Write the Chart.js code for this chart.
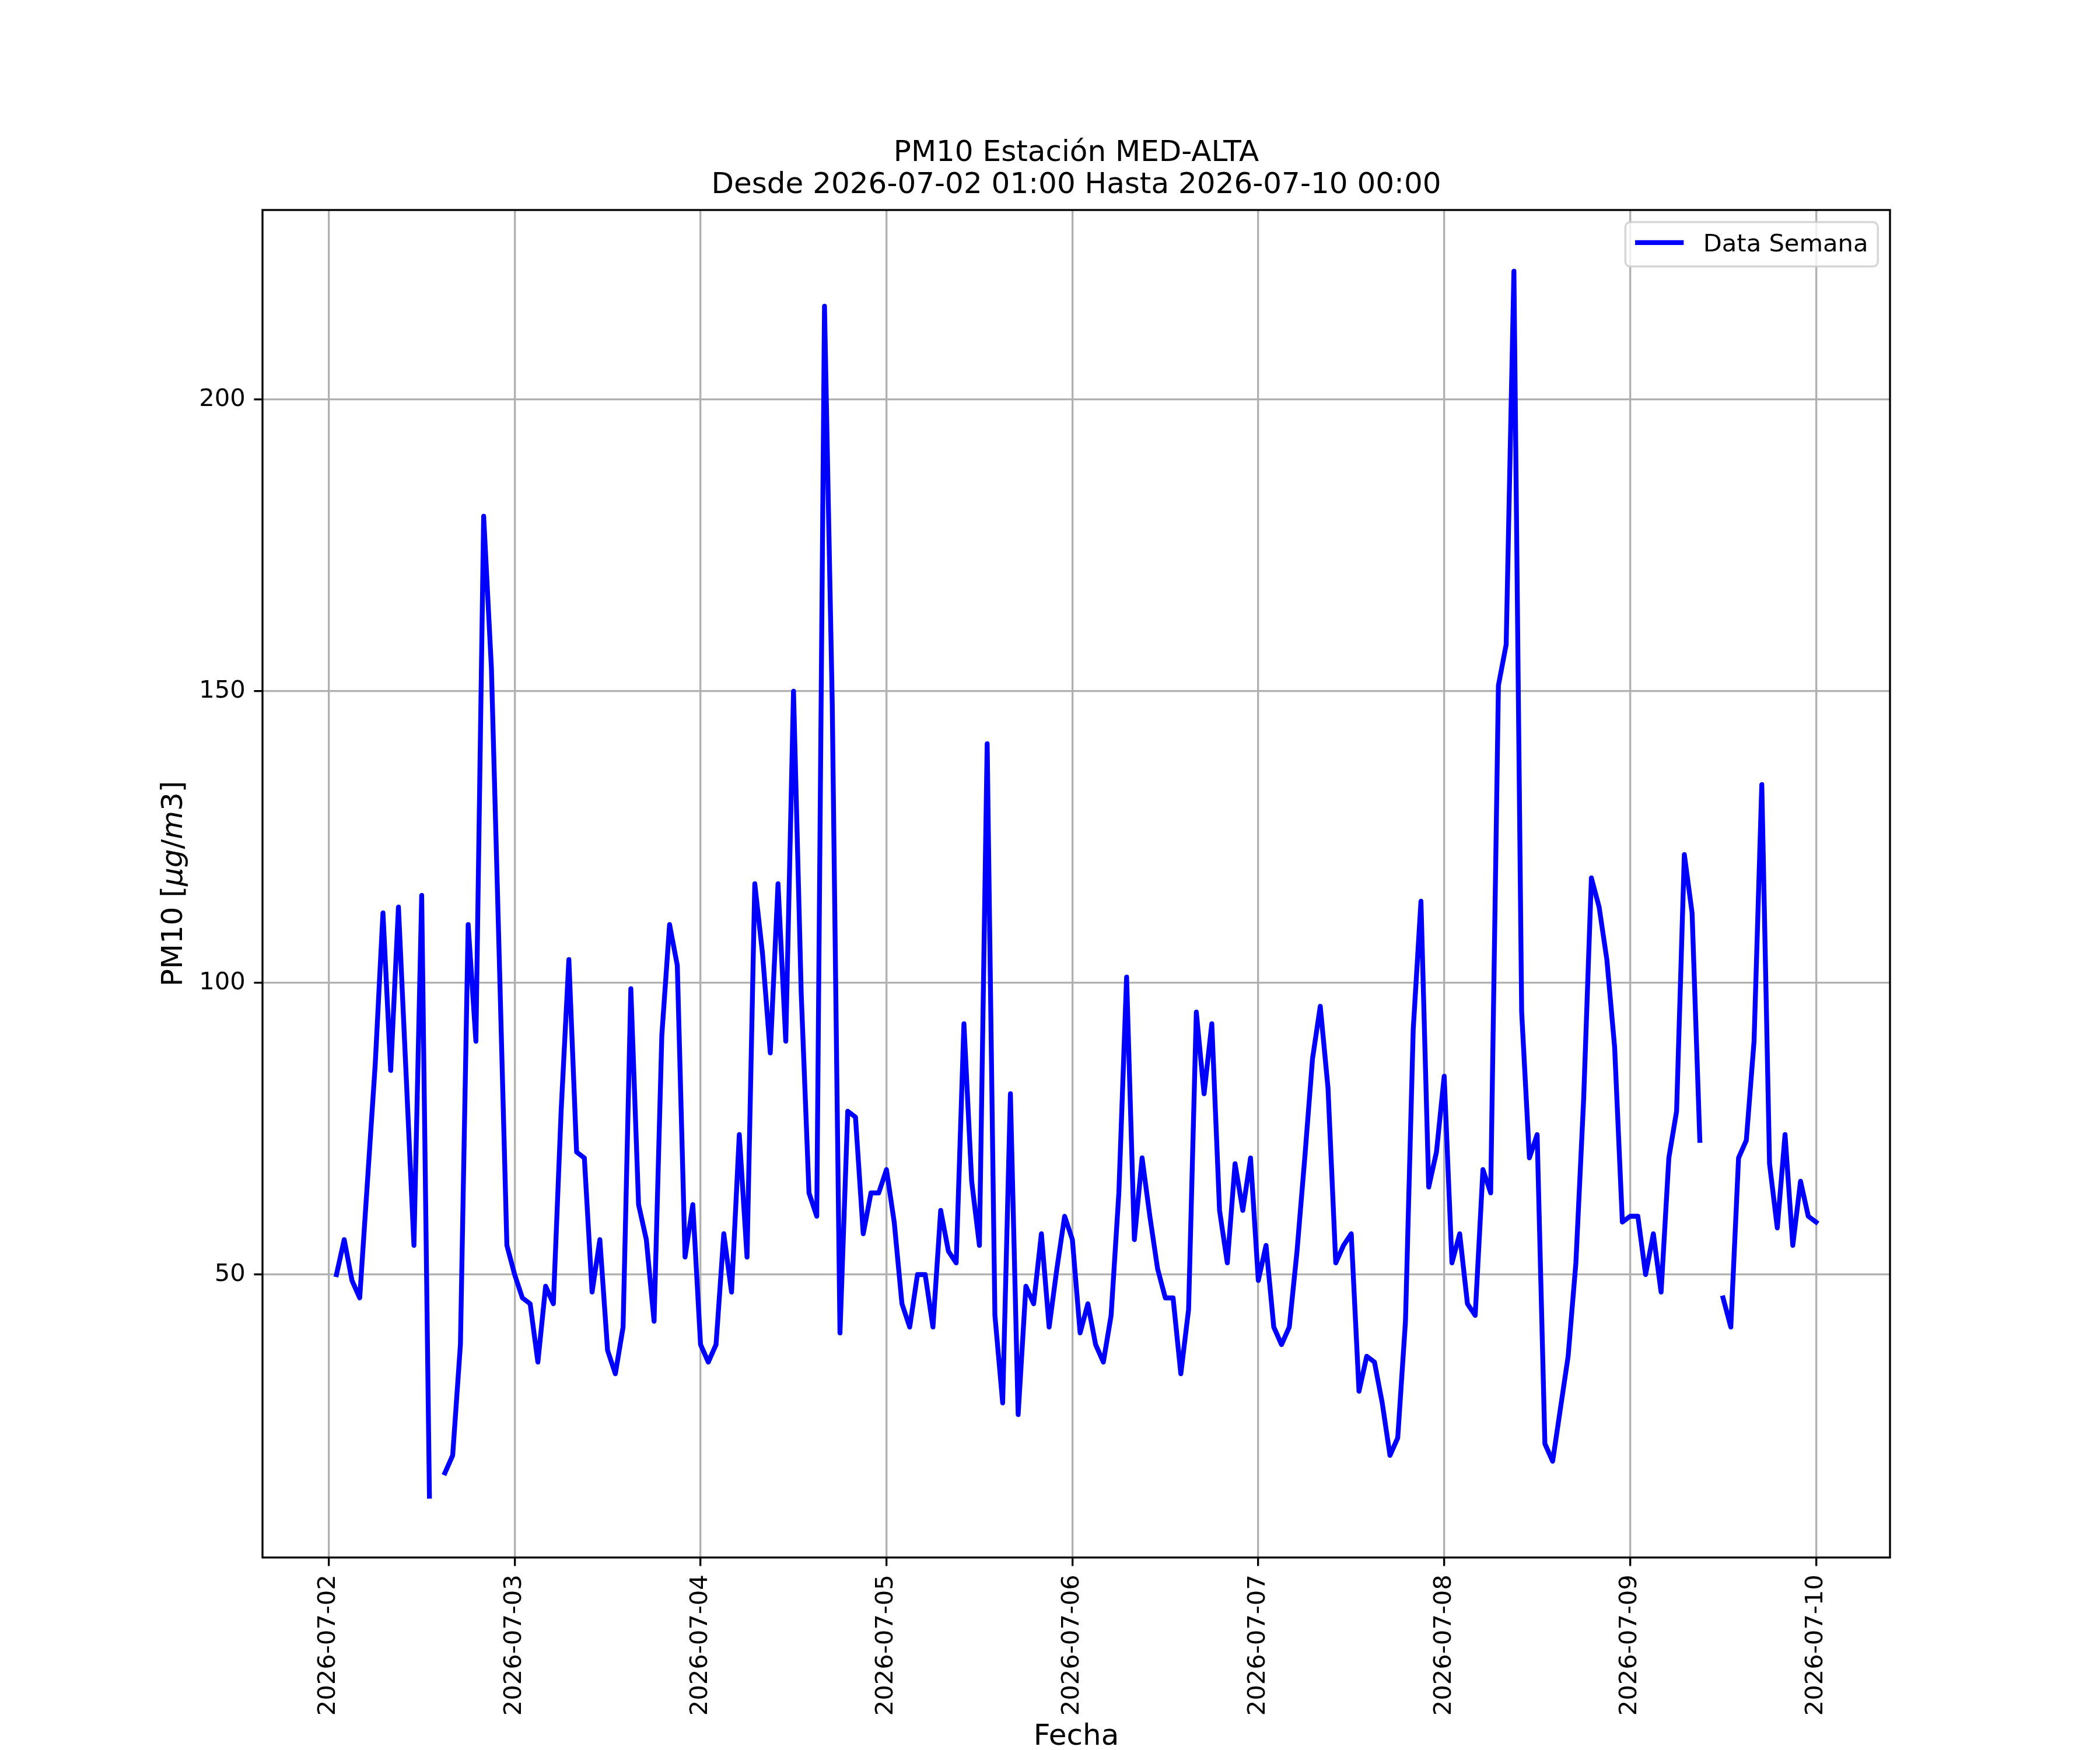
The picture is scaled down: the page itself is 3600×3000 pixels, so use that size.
<!DOCTYPE html>
<html>
<head>
<meta charset="utf-8">
<title>PM10 Estación MED-ALTA</title>
<script src="https://cdn.jsdelivr.net/npm/chart.js@4.4.1/dist/chart.umd.min.js"></script>
<style>
  html, body { margin: 0; padding: 0; background: #ffffff; }
  canvas { display: block; }
</style>
</head>
<body>
<canvas id="myChart" width="3600" height="3000" style="width:3600px;height:3000px"></canvas>
<script>
'use strict';

// hourly PM10 values, the first one is 2026-07-02 01:00, null = no measurement
const pm10 = [
  50, 56, 49, 46, 66, 86, 112, 85, 113, 84, 55, 115, 12, null, 16, 19, 38, 110, 90, 180, 154, 105, 55, 50,
  46, 45, 35, 48, 45, 78, 104, 71, 70, 47, 56, 37, 33, 41, 99, 62, 56, 42, 91, 110, 103, 53, 62, 38,
  35, 38, 57, 47, 74, 53, 117, 105, 88, 117, 90, 150, 98, 64, 60, 216, 148, 40, 78, 77, 57, 64, 64, 68,
  59, 45, 41, 50, 50, 41, 61, 54, 52, 93, 66, 55, 141, 43, 28, 81, 26, 48, 45, 57, 41, 51, 60, 56,
  40, 45, 38, 35, 43, 64, 101, 56, 70, 60, 51, 46, 46, 33, 44, 95, 81, 93, 61, 52, 69, 61, 70, 49,
  55, 41, 38, 41, 54, 70, 87, 96, 82, 52, 55, 57, 30, 36, 35, 28, 19, 22, 42, 92, 114, 65, 71, 84,
  52, 57, 45, 43, 68, 64, 151, 158, 222, 95, 70, 74, 21, 18, 27, 36, 52, 80, 118, 113, 104, 89, 59, 60,
  60, 50, 57, 47, 70, 78, 122, 112, 73, null, null, 46, 41, 70, 73, 90, 134, 69, 58, 74, 55, 66, 60, 59
];
const firstHour = 1; // hours after 2026-07-02 00:00

// x ticks: hours after 2026-07-02 00:00 and their labels
const dayTicks = [0, 24, 48, 72, 96, 120, 144, 168, 192];
const dayLabels = ['2026-07-02', '2026-07-03', '2026-07-04', '2026-07-05', '2026-07-06',
  '2026-07-07', '2026-07-08', '2026-07-09', '2026-07-10'];
const valueTicks = [50, 100, 150, 200];

const titleLines = ['PM10 Estación MED-ALTA', 'Desde 2026-07-02 01:00 Hasta 2026-07-10 00:00'];
const seriesName = 'Data Semana';
const xTitle = 'Fecha';

// figure was saved at 300 dpi, so 1pt = 300/72 px
const pt = 300 / 72;
const family = '\'DejaVu Sans\', sans-serif';
const fontSize = 10 * pt;
const labelSize = 12 * pt;

let points = pm10.map((v, i) => ({ x: firstHour + i, y: v }));

// axis limits with the usual 5% margin round the data
let known = pm10.filter(v => v !== null);
let lo = Math.min(...known);
let hi = Math.max(...known);
let yPad = 0.05 * (hi - lo);
let lastHour = firstHour + pm10.length - 1;
let xPad = 0.05 * (lastHour - firstHour);

Chart.defaults.font.family = family;
Chart.defaults.color = '#000000';

function roundBox(ctx, x, y, w, h, r) {
  ctx.beginPath();
  ctx.moveTo(x + r, y);
  ctx.lineTo(x + w - r, y);
  ctx.arcTo(x + w, y, x + w, y + r, r);
  ctx.lineTo(x + w, y + h - r);
  ctx.arcTo(x + w, y + h, x + w - r, y + h, r);
  ctx.lineTo(x + r, y + h);
  ctx.arcTo(x, y + h, x, y + h - r, r);
  ctx.lineTo(x, y + r);
  ctx.arcTo(x, y, x + r, y, r);
  ctx.closePath();
}

// black frame round the plot area (all four spines)
const frame = {
  id: 'frame',
  afterDatasetsDraw(chart) {
    let a = chart.chartArea;
    let ctx = chart.ctx;
    ctx.save();
    ctx.strokeStyle = '#000000';
    ctx.lineWidth = 0.8 * pt;
    ctx.strokeRect(a.left, a.top, a.right - a.left, a.bottom - a.top);
    ctx.restore();
  }
};

// legend inside the plot, upper right, like matplotlib
const legendBox = {
  id: 'legendBox',
  afterDraw(chart) {
    let a = chart.chartArea;
    let ctx = chart.ctx;
    ctx.save();
    ctx.font = `${fontSize}px ${family}`;
    let textW = ctx.measureText(seriesName).width;
    let pad = 0.4 * fontSize;
    let handle = 2 * fontSize;
    let gap = 0.8 * fontSize;
    let w = pad + handle + gap + textW + pad;
    let h = 76;
    let right = a.right - 0.5 * fontSize;
    let top = a.top + 0.5 * fontSize;
    let left = right - w;

    roundBox(ctx, left, top, w, h, 0.2 * fontSize);
    ctx.fillStyle = 'rgba(255,255,255,0.8)';
    ctx.fill();
    ctx.strokeStyle = 'rgba(204,204,204,0.8)';
    ctx.lineWidth = 0.85 * pt;
    ctx.stroke();

    ctx.beginPath();
    ctx.moveTo(left + pad, top + 35);
    ctx.lineTo(left + pad + handle, top + 35);
    ctx.strokeStyle = '#0000ff';
    ctx.lineWidth = 2 * pt;
    ctx.lineCap = 'butt';
    ctx.stroke();

    ctx.fillStyle = '#000000';
    ctx.textBaseline = 'alphabetic';
    ctx.textAlign = 'left';
    ctx.fillText(seriesName, left + pad + handle + gap, top + 50);
    ctx.restore();
  }
};

// y label with the math part in italics: PM10 [μg/m3]
const yLabel = {
  id: 'yLabel',
  afterDraw(chart) {
    let a = chart.chartArea;
    let ctx = chart.ctx;
    let normal = `${labelSize}px ${family}`;
    let italic = `oblique ${labelSize}px ${family}`;
    let parts = [['PM10 [', normal], ['μg', italic], ['/', normal], ['m', italic], ['3', normal], [']', normal]];
    ctx.save();
    let total = 0;
    parts.forEach(p => { ctx.font = p[1]; total += ctx.measureText(p[0]).width; });
    ctx.translate(312, (a.top + a.bottom) / 2);
    ctx.rotate(-Math.PI / 2);
    ctx.fillStyle = '#000000';
    ctx.textBaseline = 'alphabetic';
    ctx.textAlign = 'left';
    let x = -total / 2;
    parts.forEach(p => {
      ctx.font = p[1];
      ctx.fillText(p[0], x, 0);
      x += ctx.measureText(p[0]).width;
    });
    ctx.restore();
  }
};

const gridStyle = {
  color: '#b0b0b0',
  lineWidth: 0.8 * pt,
  tickLength: 3.5 * pt,
  tickColor: '#000000',
  tickWidth: 0.8 * pt
};

const ctx = document.getElementById('myChart');

// eslint-disable-next-line no-undef
new Chart(ctx, {
  type: 'line',
  data: {
    datasets: [{
      label: seriesName,
      data: points,
      borderColor: '#0000ff',
      backgroundColor: '#0000ff',
      borderWidth: 2 * pt,
      borderJoinStyle: 'round',
      borderCapStyle: 'square',
      pointRadius: 0,
      tension: 0,
      spanGaps: false,
      fill: false
    }]
  },
  options: {
    responsive: false,
    devicePixelRatio: 1,
    animation: false,
    events: [],
    layout: { padding: { left: 0, right: 360, top: 0, bottom: 0 } },
    scales: {
      x: {
        type: 'linear',
        min: firstHour - xPad,
        max: lastHour + xPad,
        afterBuildTicks: (scale) => { scale.ticks = dayTicks.map(v => ({ value: v })); },
        afterFit: (scale) => { scale.height = 330; },
        ticks: {
          autoSkip: false,
          minRotation: 90,
          maxRotation: 90,
          padding: 3.5 * pt,
          color: '#000000',
          font: { size: fontSize },
          callback: (value, i) => dayLabels[i]
        },
        grid: gridStyle,
        border: { display: false },
        title: {
          display: true,
          text: xTitle,
          color: '#000000',
          font: { size: labelSize, lineHeight: 0.8 },
          padding: { top: 0, bottom: 2.3 }
        }
      },
      y: {
        type: 'linear',
        min: lo - yPad,
        max: hi + yPad,
        afterBuildTicks: (scale) => { scale.ticks = valueTicks.map(v => ({ value: v })); },
        afterFit: (scale) => { scale.width = 450; },
        ticks: {
          padding: 3.5 * pt,
          color: '#000000',
          font: { size: fontSize }
        },
        grid: gridStyle,
        border: { display: false }
      }
    },
    plugins: {
      legend: { display: false },
      tooltip: { enabled: false },
      title: {
        display: true,
        text: titleLines,
        fullSize: false,
        color: '#000000',
        font: { size: 12 * pt, weight: 'normal', lineHeight: 1.1 },
        padding: { top: 235.2, bottom: 14.8 }
      }
    }
  },
  plugins: [frame, legendBox, yLabel]
});
</script>
</body>
</html>
